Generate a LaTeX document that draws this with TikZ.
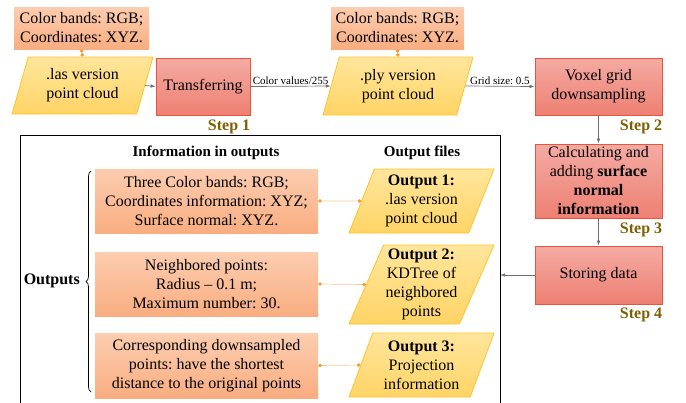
\documentclass[tikz,border=0pt]{standalone}
\usepackage{fontspec}
\setmainfont{Liberation Serif}
\usetikzlibrary{shapes.geometric,arrows.meta,decorations.pathreplacing}
\frenchspacing

\definecolor{proctop}{HTML}{F4ABA3}
\definecolor{procbot}{HTML}{EE8073}
\definecolor{procline}{HTML}{E8553F}
\definecolor{cloudtop}{HTML}{FFE69C}
\definecolor{cloudbot}{HTML}{FFD466}
\definecolor{cloudline}{HTML}{FFC32A}
\definecolor{notetop}{HTML}{FCCDB0}
\definecolor{notebot}{HTML}{F9AD80}
\definecolor{pinline}{HTML}{F8C8A2}
\definecolor{pindot}{HTML}{F59A30}
\definecolor{stepgold}{HTML}{7F6000}
\definecolor{flowgray}{HTML}{6E6E6E}

\begin{document}
\begin{tikzpicture}[x=1pt, y=-1pt,
    txt/.style={font=\fontsize{16}{19}\selectfont, align=center, inner sep=0pt},
    proc/.style={txt, draw=procline, line width=0.8pt, top color=proctop, bottom color=procbot, minimum width=127pt},
    cloud/.style={txt, trapezium, trapezium stretches body, trapezium left angle=64, trapezium right angle=116,
        draw=cloudline, line width=0.8pt, top color=cloudtop, bottom color=cloudbot},
    note/.style={txt, top color=notetop, bottom color=notebot, minimum width=223pt},
    steplabel/.style={font=\fontsize{16}{19}\selectfont\bfseries, text=stepgold, inner sep=0pt, anchor=north east},
    head/.style={font=\fontsize{15}{18}\selectfont\bfseries, inner sep=0pt},
    flow/.style={draw=flowgray, line width=0.7pt, -{Latex[length=5pt, width=3.5pt]}},
    tag/.style={font=\fontsize{11}{13}\selectfont, inner sep=1.5pt, above},
    pin/.style={draw=pinline, line width=0.7pt, {Circle[length=3.5pt, color=pindot]}-{Circle[length=3.5pt, color=pindot]}},
]
    \useasboundingbox (0,0) rectangle (686,402);

    % Input notes
    \node[note, minimum width=135pt, minimum height=42pt] (srcnote) at (81.5,28) {Color bands: RGB;\\Coordinates: XYZ.};
    \node[note, minimum width=133pt, minimum height=42pt] (plynote) at (397.5,28) {Color bands: RGB;\\Coordinates: XYZ.};

    % Processing chain
    \node[cloud, minimum width=141pt, minimum height=57pt] (las) at (82.5,85.5) {.las version\\point cloud};
    \node[proc, minimum width=94pt, minimum height=57pt] (tr) at (203,86.5) {Transferring};
    \node[cloud, minimum width=150pt, minimum height=58pt] (ply) at (398,86) {.ply version\\point cloud};
    \node[proc, minimum height=57pt] (vox) at (598.5,86.5) {Voxel grid\\downsampling};
    \node[proc, minimum height=74pt] (calc) at (598.5,181) {Calculating and\\adding \textbf{surface}\\\textbf{normal}\\\textbf{information}};
    \node[proc, minimum height=58pt] (store) at (598.5,275) {Storing data};

    % Steps
    \node[steplabel] (step1) at ([yshift=-4pt]tr.south east) {Step 1};
    \node[steplabel] (step2) at ([yshift=-4pt]vox.south east) {Step 2};
    \node[steplabel] (step3) at ([yshift=-4pt]calc.south east) {Step 3};
    \node[steplabel] (step4) at ([yshift=-3pt]store.south east) {Step 4};

    % Links
    \draw[pin] (srcnote.south) -- (las.north);
    \draw[pin] (plynote.south) -- (ply.north);
    \draw[flow] (las.east) -- (tr.west);
    \draw[flow] (tr.east) -- node[tag] (tagcolor) {Color values/255} (ply.west);
    \draw[flow] (ply.east) -- node[tag] (taggrid) {Grid size: 0.5} (vox.west);
    \draw[flow] (vox) -- (calc);
    \draw[flow] (calc) -- (store);

    % Output frame
    \coordinate (frameNE) at (500,135);
    \draw[line width=0.8pt] (20,403) |- (frameNE) -- (500,403);
    \draw[flow] (store.west) -- (store.west -| frameNE);

    \node[head] (infohead) at (206,153) {Information in outputs};
    \node[head] (filehead) at (422,153) {Output files};

    \node[note, minimum height=64pt] (info1) at (206.5,201) {Three Color bands: RGB;\\Coordinates information: XYZ;\\Surface normal: XYZ.};
    \node[note, minimum height=64pt] (info2) at (206.5,284) {Neighbored points:\\Radius -- 0.1 m;\\Maximum number: 30.};
    \node[note, minimum height=65pt] (info3) at (206.5,365.5) {Corresponding downsampled\\points: have the shortest\\distance to the original points};

    \node[cloud, minimum width=145pt, minimum height=64pt] (out1) at (421.5,201) {\textbf{Output 1:}\\.las version\\point cloud};
    \node[cloud, minimum width=145pt, minimum height=79pt] (out2) at (421.5,284.5) {\textbf{Output 2:}\\KDTree of\\neighbored\\points};
    \node[cloud, minimum width=145pt, minimum height=64pt] (out3) at (421.5,365) {\textbf{Output 3:}\\Projection\\information};

    \draw[pin] (info1.east) -- (out1.west);
    \draw[pin] (info2.east) -- (out2.west);
    \draw[pin] (info3.east) -- (out3.west);

    % Brace
    \coordinate (bracetop) at (91,171);
    \coordinate (bracebot) at (91,392);
    \draw[line width=0.7pt, decorate, decoration={brace, amplitude=5pt}] (bracebot) -- (bracetop);
    \node[font=\fontsize{16}{19}\selectfont\bfseries, anchor=east, inner sep=0pt] (outlabel) at (80,281) {Outputs};
\end{tikzpicture}
\end{document}
